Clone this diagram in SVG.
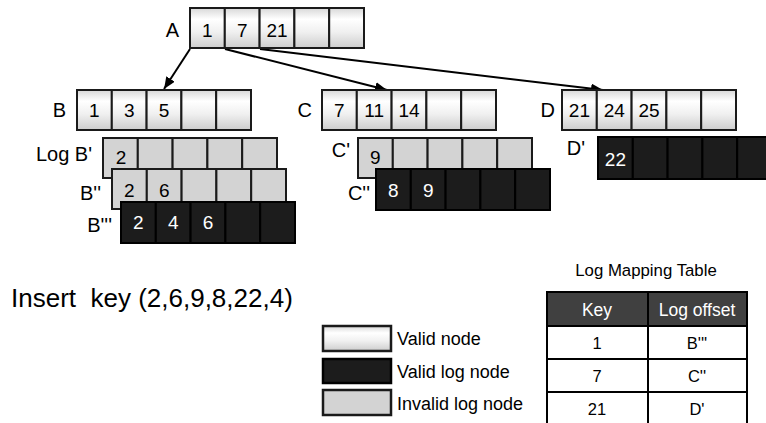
<svg xmlns="http://www.w3.org/2000/svg" width="766" height="423" viewBox="0 0 766 423">
<defs>
<linearGradient id="gv" x1="0" y1="0" x2="0" y2="1">
<stop offset="0" stop-color="#d8d8d8"/>
<stop offset="0.28" stop-color="#ffffff"/>
<stop offset="0.6" stop-color="#f0f0f0"/>
<stop offset="1" stop-color="#cdcdcd"/>
</linearGradient>
<marker id="ah2" viewBox="0 0 12 10" refX="12" refY="5" markerWidth="12" markerHeight="10" orient="auto" markerUnits="userSpaceOnUse">
<path d="M0,0 L12,5 L0,10 z" fill="#000"/>
</marker>
</defs>
<style>
text{font-family:"Liberation Sans",Arial,sans-serif;fill:#000}
.v rect{fill:url(#gv);stroke:#1a1a1a;stroke-width:2}
.i rect{fill:#d3d3d3;stroke:#1a1a1a;stroke-width:2}
.k rect{fill:#1c1c1c;stroke:#000;stroke-width:2}
.d{font-size:19px;text-anchor:middle}
.k .d{fill:#fff}
.lb{font-size:20px}
.lg{font-size:18px}
.tb{font-size:16.5px;text-anchor:middle}
.th{fill:#fff;font-size:17.5px}
.conn line{stroke:#000;stroke-width:2}
</style>
<rect width="766" height="423" fill="#fff"/>

<g id="connectors" class="conn">
<line x1="190" y1="49" x2="164" y2="89" marker-end="url(#ah2)"/>
<line x1="225" y1="49" x2="387" y2="90" marker-end="url(#ah2)"/>
<line x1="260" y1="49" x2="603" y2="90" marker-end="url(#ah2)"/>
</g>

<g id="nodeA" class="v">
<text class="lb" x="179" y="37" text-anchor="end">A</text>
<rect x="190" y="8" width="34.8" height="40"/><rect x="224.8" y="8" width="34.8" height="40"/><rect x="259.6" y="8" width="34.8" height="40"/><rect x="294.4" y="8" width="34.8" height="40"/><rect x="329.2" y="8" width="34.8" height="40"/>
<text class="d" x="207.4" y="37">1</text><text class="d" x="242.2" y="37">7</text><text class="d" x="277" y="37">21</text>
</g>

<g id="nodeB" class="v">
<text class="lb" x="66" y="117" text-anchor="end">B</text>
<rect x="77" y="90" width="34.8" height="40"/><rect x="111.8" y="90" width="34.8" height="40"/><rect x="146.6" y="90" width="34.8" height="40"/><rect x="181.4" y="90" width="34.8" height="40"/><rect x="216.2" y="90" width="34.8" height="40"/>
<text class="d" x="94.4" y="117">1</text><text class="d" x="129.2" y="117">3</text><text class="d" x="164" y="117">5</text>
</g>

<g id="nodeB1" class="i">
<text class="lb" x="92" y="161" text-anchor="end">Log B'</text>
<rect x="103" y="138" width="34.8" height="40"/><rect x="137.8" y="138" width="34.8" height="40"/><rect x="172.6" y="138" width="34.8" height="40"/><rect x="207.4" y="138" width="34.8" height="40"/><rect x="242.2" y="138" width="34.8" height="40"/>
<text class="d" x="121" y="164">2</text>
</g>

<g id="nodeB2" class="i">
<text class="lb" x="101" y="200" text-anchor="end">B''</text>
<rect x="112" y="169" width="34.8" height="40"/><rect x="146.8" y="169" width="34.8" height="40"/><rect x="181.6" y="169" width="34.8" height="40"/><rect x="216.4" y="169" width="34.8" height="40"/><rect x="251.2" y="169" width="34.8" height="40"/>
<text class="d" x="129.4" y="197">2</text><text class="d" x="164.2" y="197">6</text>
</g>

<g id="nodeB3" class="k">
<text class="lb" x="112" y="232" text-anchor="end">B'''</text>
<rect x="121" y="202" width="34.8" height="41"/><rect x="155.8" y="202" width="34.8" height="41"/><rect x="190.6" y="202" width="34.8" height="41"/><rect x="225.4" y="202" width="34.8" height="41"/><rect x="260.2" y="202" width="34.8" height="41"/>
<text class="d" x="138.4" y="229">2</text><text class="d" x="173.2" y="229">4</text><text class="d" x="208" y="229">6</text>
</g>

<g id="nodeC" class="v">
<text class="lb" x="312" y="117" text-anchor="end">C</text>
<rect x="322" y="90" width="34.8" height="40"/><rect x="356.8" y="90" width="34.8" height="40"/><rect x="391.6" y="90" width="34.8" height="40"/><rect x="426.4" y="90" width="34.8" height="40"/><rect x="461.2" y="90" width="34.8" height="40"/>
<text class="d" x="339.4" y="117">7</text><text class="d" x="374.2" y="117">11</text><text class="d" x="409" y="117">14</text>
</g>

<g id="nodeC1" class="i">
<text class="lb" x="350" y="157" text-anchor="end">C'</text>
<rect x="358" y="138" width="34.8" height="40"/><rect x="392.8" y="138" width="34.8" height="40"/><rect x="427.6" y="138" width="34.8" height="40"/><rect x="462.4" y="138" width="34.8" height="40"/><rect x="497.2" y="138" width="34.8" height="40"/>
<text class="d" x="375.4" y="164">9</text>
</g>

<g id="nodeC2" class="k">
<text class="lb" x="370" y="200" text-anchor="end">C''</text>
<rect x="376" y="169" width="34.8" height="41"/><rect x="410.8" y="169" width="34.8" height="41"/><rect x="445.6" y="169" width="34.8" height="41"/><rect x="480.4" y="169" width="34.8" height="41"/><rect x="515.2" y="169" width="34.8" height="41"/>
<text class="d" x="393.4" y="197">8</text><text class="d" x="428.2" y="197">9</text>
</g>

<g id="nodeD" class="v">
<text class="lb" x="555" y="117" text-anchor="end">D</text>
<rect x="562" y="90" width="34.8" height="40"/><rect x="596.8" y="90" width="34.8" height="40"/><rect x="631.6" y="90" width="34.8" height="40"/><rect x="666.4" y="90" width="34.8" height="40"/><rect x="701.2" y="90" width="34.8" height="40"/>
<text class="d" x="579.4" y="117">21</text><text class="d" x="614.2" y="117">24</text><text class="d" x="649" y="117">25</text>
</g>

<g id="nodeD1" class="k">
<text class="lb" x="585" y="155" text-anchor="end">D'</text>
<rect x="598" y="137" width="34.8" height="42"/><rect x="632.8" y="137" width="34.8" height="42"/><rect x="667.6" y="137" width="34.8" height="42"/><rect x="702.4" y="137" width="34.8" height="42"/><rect x="737.2" y="137" width="34.8" height="42"/>
<text class="d" x="615.4" y="166">22</text>
</g>

<g id="insert">
<text x="11" y="307" xml:space="preserve" style="font-size:26px;white-space:pre">Insert  key (2,6,9,8,22,4)</text>
</g>

<g id="legend">
<g class="v"><rect x="323" y="326" width="68" height="25" style="stroke-width:2.5"/></g>
<g class="k"><rect x="323" y="359" width="68" height="24" style="stroke-width:2.5"/></g>
<g class="i"><rect x="323" y="390" width="68" height="25" style="stroke-width:2.5"/></g>
<text class="lg" x="397" y="345">Valid node</text>
<text class="lg" x="397" y="378">Valid log node</text>
<text class="lg" x="397" y="410">Invalid log node</text>
</g>

<g id="table">
<text x="646" y="276" style="font-size:16.8px;text-anchor:middle">Log Mapping Table</text>
<rect x="547" y="292" width="200" height="34" fill="#404040"/>
<rect x="547" y="292" width="200" height="140" fill="none" stroke="#000" stroke-width="2"/>
<line x1="648" y1="292" x2="648" y2="430" stroke="#000" stroke-width="2"/>
<line x1="547" y1="326" x2="747" y2="326" stroke="#000" stroke-width="2"/>
<line x1="547" y1="359" x2="747" y2="359" stroke="#000" stroke-width="2"/>
<line x1="547" y1="392" x2="747" y2="392" stroke="#000" stroke-width="2"/>
<text class="tb th" x="597" y="316">Key</text>
<text class="tb th" x="697" y="316">Log offset</text>
<text class="tb" x="597" y="349">1</text>
<text class="tb" x="697" y="349">B'''</text>
<text class="tb" x="597" y="382">7</text>
<text class="tb" x="697" y="382">C''</text>
<text class="tb" x="597" y="415">21</text>
<text class="tb" x="697" y="415">D'</text>
</g>
</svg>
